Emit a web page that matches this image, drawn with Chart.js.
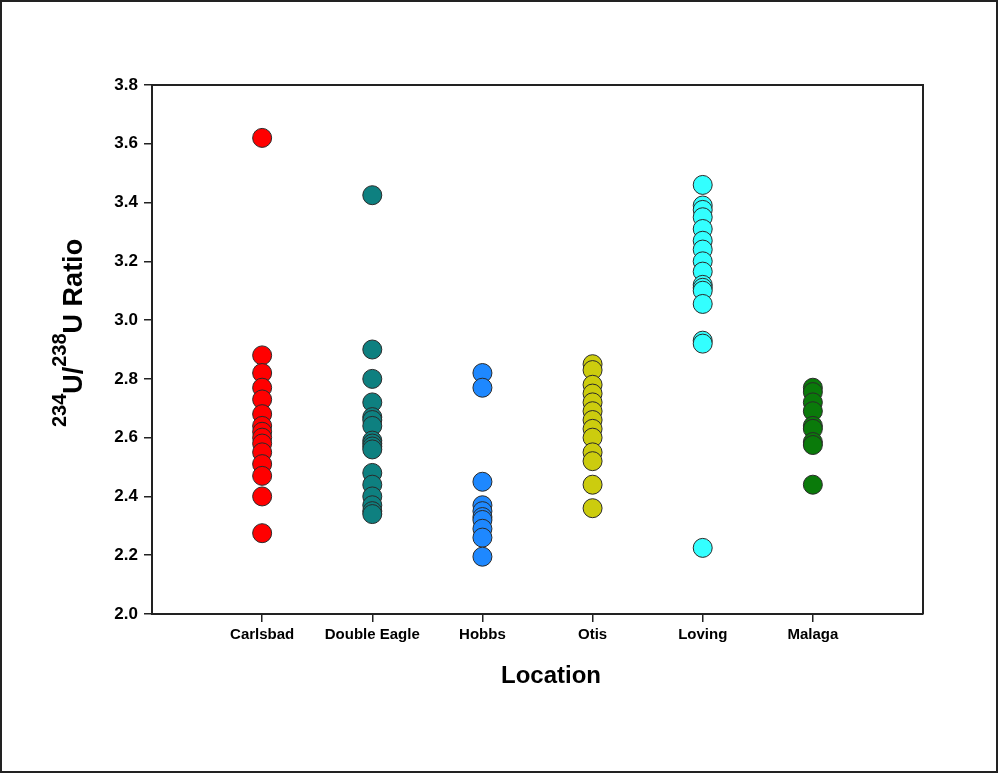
<!DOCTYPE html>
<html>
<head>
<meta charset="utf-8">
<script src="https://cdn.jsdelivr.net/npm/chart.js@4/dist/chart.umd.min.js"></script>
<style>
  html, body { margin: 0; padding: 0; background: #fff; }
  #wrap { width: 999px; height: 774px; }
</style>
</head>
<body>
<div id="wrap"><canvas id="chart" width="999" height="774"></canvas></div>
<script>
const locations = ['Carlsbad', 'Double Eagle', 'Hobbs', 'Otis', 'Loving', 'Malaga'];
const colors = ['#ff0000', '#0e8080', '#1e88ff', '#cccc0e', '#33ffff', '#0a7a0a'];

const carlsbad = [3.62, 2.88, 2.82, 2.77, 2.73, 2.68, 2.64, 2.62, 2.60, 2.58, 2.55, 2.51, 2.47, 2.40, 2.275];
const doubleEagle = [3.425, 2.90, 2.80, 2.72, 2.67, 2.66, 2.64, 2.59, 2.58, 2.57, 2.56, 2.48, 2.44, 2.40, 2.37, 2.35, 2.34];
const hobbs = [2.82, 2.77, 2.45, 2.37, 2.35, 2.33, 2.32, 2.29, 2.26, 2.195];
const otis = [2.85, 2.83, 2.78, 2.75, 2.72, 2.69, 2.66, 2.63, 2.60, 2.55, 2.52, 2.44, 2.36];
const loving = [3.46, 3.39, 3.375, 3.35, 3.31, 3.27, 3.24, 3.20, 3.165, 3.12, 3.11, 3.10, 3.055, 2.93, 2.92, 2.225];
const malaga = [2.77, 2.755, 2.72, 2.69, 2.64, 2.63, 2.585, 2.575, 2.44];

const yTicks = [2.0, 2.2, 2.4, 2.6, 2.8, 3.0, 3.2, 3.4, 3.6, 3.8];

const seriesValues = [carlsbad, doubleEagle, hobbs, otis, loving, malaga];
const FONT = "'Liberation Sans', Arial, sans-serif";

const datasets = seriesValues.map((vals, i) => ({
    label: locations[i],
    data: vals.map(v => ({ x: i + 1, y: v })),
    backgroundColor: colors[i],
    borderColor: '#2a2a2a',
    borderWidth: 1,
    pointRadius: 9.5,
    pointHoverRadius: 9.5
}));

// frame, outer border and the two axis titles
const decor = {
    id: 'decor',
    afterDraw(chart) {
        const ctx = chart.ctx;
        const a = chart.chartArea;
        ctx.save();
        ctx.strokeStyle = '#222';
        ctx.lineWidth = 2;
        ctx.strokeRect(1, 1, 996, 771);
        ctx.beginPath();
        ctx.moveTo(a.left, a.top);
        ctx.lineTo(a.right, a.top);
        ctx.lineTo(a.right, a.bottom);
        ctx.stroke();

        ctx.fillStyle = '#000';
        ctx.textAlign = 'center';
        ctx.textBaseline = 'alphabetic';
        ctx.font = 'bold 24px ' + FONT;
        ctx.fillText('Location', 551, 683);

        // y title with superscripts
        const parts = [
            { t: '234', sup: true },
            { t: 'U/', sup: false },
            { t: '238', sup: true },
            { t: 'U Ratio', sup: false }
        ];
        const mainFont = 'bold 27px ' + FONT;
        const supFont = 'bold 20px ' + FONT;
        let total = 0;
        parts.forEach(p => {
            ctx.font = p.sup ? supFont : mainFont;
            p.w = ctx.measureText(p.t).width;
            total += p.w;
        });
        ctx.translate(82, 333);
        ctx.rotate(-Math.PI / 2);
        ctx.textAlign = 'left';
        let x = -total / 2;
        parts.forEach(p => {
            ctx.font = p.sup ? supFont : mainFont;
            ctx.fillText(p.t, x, p.sup ? -16 : 0);
            x += p.w;
        });
        ctx.restore();
    }
};

new Chart(document.getElementById('chart'), {
    type: 'scatter',
    data: { datasets },
    options: {
        responsive: false,
        animation: false,
        layout: { padding: { left: 0, top: 85, right: 76, bottom: 0 } },
        plugins: {
            legend: { display: false },
            tooltip: { enabled: false }
        },
        scales: {
            x: {
                type: 'linear',
                min: 0,
                max: 7,
                afterFit: s => { s.height = 160; },
                afterBuildTicks: s => { s.ticks = locations.map((_, i) => ({ value: i + 1 })); },
                ticks: {
                    callback: v => locations[v - 1] || '',
                    color: '#000',
                    font: { family: FONT, size: 15, weight: 'bold' },
                    padding: 4,
                    maxRotation: 0,
                    autoSkip: false
                },
                grid: { drawOnChartArea: false, drawTicks: true, tickLength: 8, color: '#222', lineWidth: 1.5 },
                border: { display: true, color: '#222', width: 2 }
            },
            y: {
                min: 2.0,
                max: 3.8,
                afterFit: s => { s.width = 152; },
                afterBuildTicks: s => { s.ticks = yTicks.map(v => ({ value: v })); },
                ticks: {
                    callback: v => Number(v).toFixed(1),
                    color: '#000',
                    font: { family: FONT, size: 17, weight: 'bold' },
                    padding: 6
                },
                grid: { drawOnChartArea: false, drawTicks: true, tickLength: 8, color: '#222', lineWidth: 1.5 },
                border: { display: true, color: '#222', width: 2 }
            }
        }
    },
    plugins: [decor]
});
</script>
</body>
</html>
